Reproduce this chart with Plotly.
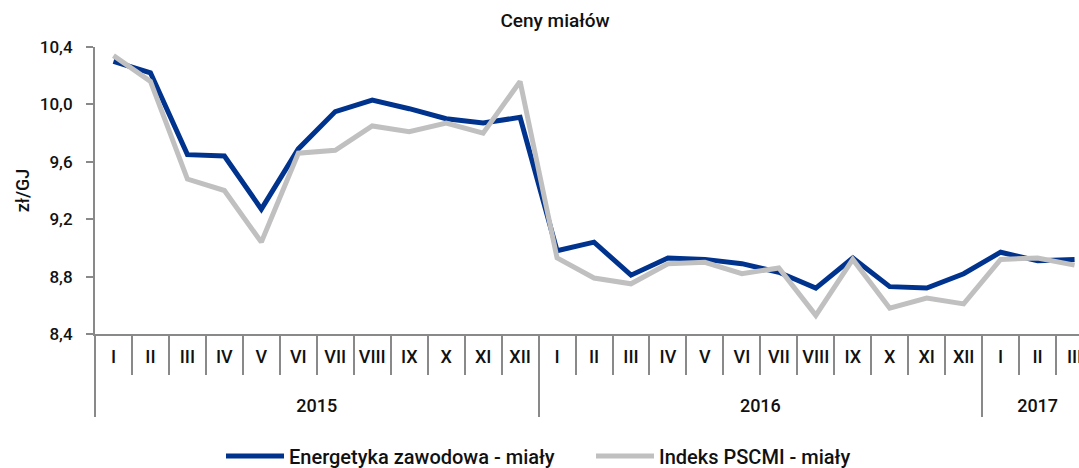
import plotly.graph_objects as go

title_text = "Ceny miałów"
y_title = "zł/GJ"
years = ["2015"] * 12 + ["2016"] * 12 + ["2017"] * 3
months = ["I", "II", "III", "IV", "V", "VI", "VII", "VIII", "IX", "X", "XI", "XII"] * 2 + ["I", "II", "III"]
energetyka = [10.30, 10.22, 9.65, 9.64, 9.27, 9.69, 9.95, 10.03, 9.97, 9.90, 9.87, 9.91,
              8.98, 9.04, 8.81, 8.93, 8.92, 8.89, 8.83, 8.72, 8.93, 8.73, 8.72, 8.82,
              8.97, 8.91, 8.92]
pscmi = [10.34, 10.16, 9.48, 9.40, 9.04, 9.66, 9.68, 9.85, 9.81, 9.87, 9.80, 10.16,
         8.93, 8.79, 8.75, 8.89, 8.90, 8.82, 8.86, 8.53, 8.92, 8.58, 8.65, 8.61,
         8.92, 8.93, 8.88]
series_names = ["Energetyka zawodowa - miały", "Indeks PSCMI - miały"]

idx = list(range(len(months)))
year_labels = []
year_centers = []
year_bounds = [-0.5]
for i, yv in enumerate(years):
    if i == len(years) - 1 or years[i + 1] != yv:
        start = year_bounds[-1] + 0.5
        year_labels.append(yv)
        year_centers.append((start + i) / 2)
        year_bounds.append(i + 0.5)
month_bounds = [i - 0.5 for i in idx] + [len(idx) - 0.5]

FONT = "Roboto"
TXT = "#111111"
AXC = "#898989"
xr = [-0.5, 26.12]

fig = go.Figure()
fig.add_trace(go.Scatter(x=idx, y=energetyka, name=series_names[0], mode="lines",
                         line=dict(color="#00338D", width=5)))
fig.add_trace(go.Scatter(x=idx, y=pscmi, name=series_names[1], mode="lines",
                         line=dict(color="#C0C0C0", width=5)))
for ax in ["x2", "x3", "x4"]:
    fig.add_trace(go.Scatter(x=[], y=[], xaxis=ax, yaxis="y", showlegend=False, hoverinfo="skip"))

common_x = dict(range=xr, automargin=False, showgrid=False, zeroline=False, ticklabeloverflow="allow")

fig.update_layout(
    width=1079, height=468,
    margin=dict(l=95, r=0, t=47, b=134, autoexpand=False),
    paper_bgcolor="white", plot_bgcolor="white",
    separators=", ",
    font=dict(family=FONT, size=18, color=TXT, weight=500),
    title=dict(text=title_text, x=555 / 1079, xanchor="center", xref="container",
               y=1 - 20 / 468, yanchor="middle", yref="container", automargin=False,
               font=dict(family=FONT, size=19, color=TXT, weight=500)),
    showlegend=True,
    legend=dict(orientation="h", x=(221 - 95) / 984, xanchor="left",
                y=(334 - 456) / 287, yanchor="middle", yref="paper",
                font=dict(family=FONT, size=20, color=TXT, weight=500),
                itemwidth=58, entrywidth=297, bgcolor="rgba(0,0,0,0)"),
    xaxis=dict(tickmode="array", tickvals=idx, ticktext=months,
               ticks="outside", ticklen=5, tickcolor="rgba(0,0,0,0)",
               showline=True, linecolor=AXC, linewidth=2, tickfont=dict(size=18), **common_x),
    xaxis2=dict(overlaying="x", anchor="y", tickmode="array", tickvals=month_bounds,
                ticks="outside", ticklen=40, tickcolor=AXC, tickwidth=2,
                showticklabels=False, showline=False, **common_x),
    xaxis3=dict(overlaying="x", anchor="y", tickmode="array", tickvals=year_centers,
                ticktext=year_labels, ticks="outside", ticklen=55, tickcolor="rgba(0,0,0,0)",
                showline=False, tickfont=dict(size=18), **common_x),
    xaxis4=dict(overlaying="x", anchor="y", tickmode="array", tickvals=year_bounds,
                ticks="outside", ticklen=82, tickcolor=AXC, tickwidth=2,
                showticklabels=False, showline=False, **common_x),
    yaxis=dict(range=[8.4, 10.4], dtick=0.4, tick0=8.4, tickformat=".1f", automargin=False,
               ticks="outside", ticklen=7, tickcolor=AXC, tickwidth=2,
               showline=True, linecolor=AXC, linewidth=2, showgrid=False, zeroline=False,
               ticklabelstandoff=10, tickfont=dict(size=17),
               title=dict(text=y_title, standoff=6, font=dict(size=18))),
)

fig.write_html("out.html", config={"displayModeBar": False},
               post_script="document.body.style.margin='0';document.body.style.overflow='hidden';")
